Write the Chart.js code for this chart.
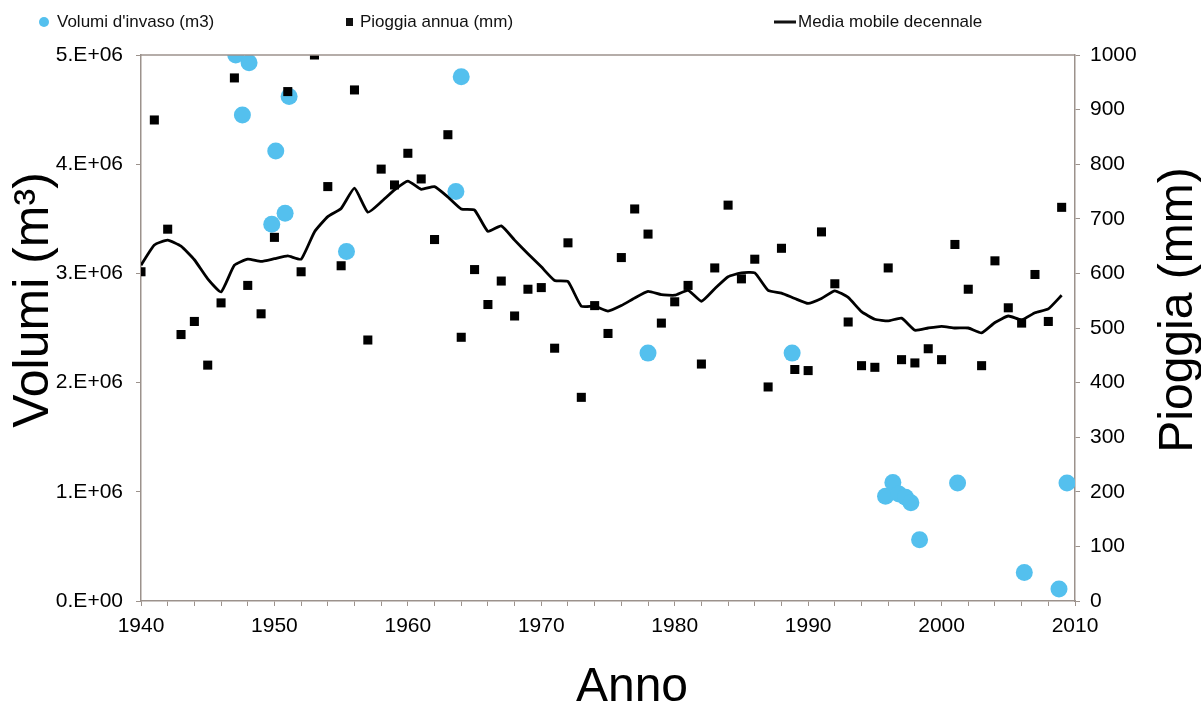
<!DOCTYPE html>
<html>
<head>
<meta charset="utf-8">
<script src="https://cdn.jsdelivr.net/npm/chart.js@4/dist/chart.umd.min.js"></script>
<style>
  html, body { margin: 0; padding: 0; background: #fff; }
  #box { width: 1201px; height: 710px; }
</style>
</head>
<body>
<div id="box"><canvas id="myChart"></canvas></div>
<script>
// anni delle piogge e della media mobile
const anni = [
  1940, 1941, 1942, 1943, 1944, 1945, 1946, 1947, 1948, 1949,
  1950, 1951, 1952, 1953, 1954, 1955, 1956, 1957, 1958, 1959,
  1960, 1961, 1962, 1963, 1964, 1965, 1966, 1967, 1968, 1969,
  1970, 1971, 1972, 1973, 1974, 1975, 1976, 1977, 1978, 1979,
  1980, 1981, 1982, 1983, 1984, 1985, 1986, 1987, 1988, 1989,
  1990, 1991, 1992, 1993, 1994, 1995, 1996, 1997, 1998, 1999,
  2000, 2001, 2002, 2003, 2004, 2005, 2006, 2007, 2008, 2009
]

// pioggia annua (mm)
const pioggia = [
  603, 881, 681, 488, 512, 432, 546, 958, 578, 526,
  666, 933, 603, 1000, 759, 614, 936, 478, 791, 762,
  820, 773, 662, 854, 483, 607, 543, 586, 522, 571,
  574, 463, 656, 373, 541, 490, 629, 718, 672, 509,
  548, 578, 434, 610, 725, 590, 626, 392, 646, 424,
  422, 676, 581, 511, 431, 428, 610, 442, 436, 462,
  442, 653, 571, 431, 623, 537, 509, 598, 512, 721
]

// media mobile decennale (mm)
const media = [
  615, 652, 661, 650, 625, 590, 566, 615, 626, 622,
  627, 632, 626, 676, 704, 719, 756, 712, 731, 753,
  769, 754, 759, 740, 718, 716, 677, 687, 661, 636,
  612, 587, 585, 540, 540, 531, 541, 555, 567, 561,
  560, 569, 549, 572, 594, 601, 601, 569, 564, 554,
  545, 554, 568, 556, 530, 516, 513, 518, 496, 500,
  503, 500, 500, 491, 510, 522, 515, 528, 535, 560
]

// volumi d'invaso (m3)
const anniVolumi = [
  1947.1, 1948.1, 1947.6, 1950.1, 1951.1, 1949.8, 1950.8, 1955.4, 1963.6, 1964.0,
  1978.0, 1988.8, 1995.8, 1996.35, 1996.8, 1997.3, 1997.7, 1998.35, 2001.2, 2006.2,
  2008.8, 2009.4
]
const volumi = [
  5.0e6, 4.93e6, 4.45e6, 4.12e6, 4.62e6, 3.45e6, 3.55e6, 3.20e6, 3.75e6, 4.80e6,
  2.27e6, 2.27e6, 0.96e6, 1.085e6, 0.98e6, 0.95e6, 0.90e6, 0.56e6, 1.08e6, 0.26e6,
  0.11e6, 1.08e6
]

const titoloSx = 'Volumi (m³)'
const titoloDx = 'Pioggia (mm)'
const titoloX = 'Anno'

const azzurro = 'rgb(84, 192, 238)'
const bordo = '#9c928c'
const font = "'Liberation Sans', Arial, Helvetica, sans-serif"

function punti(xs, ys){
  return xs.map((x, i) => ({x: x, y: ys[i]}))
}

// legenda e titoli degli assi
const testi = {
  id: 'testi',
  afterDraw(chart){
    const ctx = chart.ctx
    const ds = chart.data.datasets
    const a = chart.chartArea
    const y = 22
    ctx.save()
    ctx.textBaseline = 'middle'

    // legenda
    ctx.font = '17px ' + font
    ctx.beginPath()
    ctx.fillStyle = azzurro
    ctx.arc(44, y, 5, 0, Math.PI * 2)
    ctx.fill()
    ctx.fillStyle = '#111'
    ctx.fillText(ds[0].label, 57, y)

    ctx.fillRect(346, y - 4, 7, 8)
    ctx.fillText(ds[1].label, 360, y)

    ctx.fillRect(774, y - 1.5, 22, 3)
    ctx.fillText(ds[2].label, 798, y)

    // titoli
    ctx.fillStyle = '#000'
    ctx.font = '48px ' + font
    ctx.textAlign = 'center'
    ctx.fillText(titoloX, 632, 688)

    ctx.font = '50px ' + font
    ctx.save()
    ctx.translate(34, 300)
    ctx.rotate(-Math.PI / 2)
    ctx.fillText(titoloSx, 0, 0)
    ctx.restore()

    ctx.font = '48px ' + font
    ctx.save()
    ctx.translate(1179, 310)
    ctx.rotate(-Math.PI / 2)
    ctx.fillText(titoloDx, 0, 0)
    ctx.restore()

    // bordo superiore
    ctx.strokeStyle = bordo
    ctx.lineWidth = 1.5
    ctx.beginPath()
    ctx.moveTo(a.left, a.top)
    ctx.lineTo(a.right, a.top)
    ctx.stroke()
    ctx.restore()
  }
}

const ctx = document.getElementById('myChart')

const data = {
  datasets: [{
    type: 'scatter',
    label: "Volumi d'invaso (m3)",
    data: punti(anniVolumi, volumi),
    yAxisID: 'y',
    pointStyle: 'circle',
    pointRadius: 8.5,
    backgroundColor: azzurro,
    borderWidth: 0,
    order: 3
  }, {
    type: 'scatter',
    label: 'Pioggia annua (mm)',
    data: punti(anni, pioggia),
    yAxisID: 'y1',
    pointStyle: 'rect',
    pointRadius: 6.4,
    backgroundColor: '#000',
    borderWidth: 0,
    order: 1
  }, {
    type: 'line',
    label: 'Media mobile decennale',
    data: punti(anni, media),
    yAxisID: 'y1',
    borderColor: '#000',
    borderWidth: 2.8,
    pointRadius: 0,
    tension: 0.15,
    order: 2
  }]
}

const tickFont = { family: font, size: 21 }

const config = {
  type: 'scatter',
  data: data,
  options: {
    responsive: true,
    maintainAspectRatio: false,
    animation: false,
    layout: { padding: { top: 55, left: 0, right: 0, bottom: 0 } },
    plugins: {
      legend: { display: false },
      tooltip: { enabled: false }
    },
    scales: {
      x: {
        type: 'linear',
        min: 1940,
        max: 2010,
        afterFit(scale){ scale.height = 109 },
        border: { display: true, color: bordo, width: 1.5 },
        grid: { drawOnChartArea: false, drawTicks: true, tickLength: 5, color: bordo },
        ticks: {
          stepSize: 2,
          autoSkip: false,
          maxRotation: 0,
          padding: 8,
          color: '#000',
          font: tickFont,
          callback: v => (v % 10 === 0 ? String(v) : '')
        }
      },
      y: {
        position: 'left',
        min: 0,
        max: 5e6,
        afterFit(scale){ scale.width = 141 },
        border: { display: true, color: bordo, width: 1.5 },
        grid: { drawOnChartArea: false, drawTicks: true, tickLength: 5, color: bordo },
        ticks: {
          stepSize: 1e6,
          padding: 13,
          color: '#000',
          font: tickFont,
          callback: v => (v / 1e6).toFixed(0) + (v === 0 ? '.E+00' : '.E+06')
        }
      },
      y1: {
        position: 'right',
        min: 0,
        max: 1000,
        afterFit(scale){ scale.width = 126 },
        border: { display: true, color: bordo, width: 1.5 },
        grid: { drawOnChartArea: false, drawTicks: true, tickLength: 5, color: bordo },
        ticks: {
          stepSize: 100,
          padding: 10,
          color: '#000',
          font: tickFont,
          callback: v => String(v)
        }
      }
    }
  },
  plugins: [testi]
}

const myChart = new Chart(ctx, config)
</script>
</body>
</html>
